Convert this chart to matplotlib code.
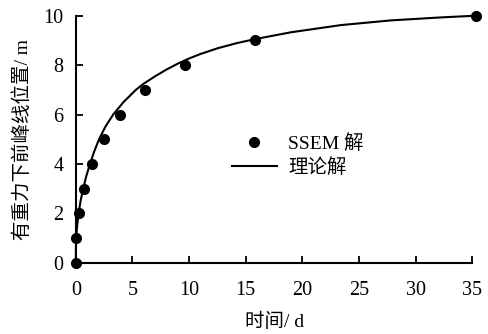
import matplotlib
matplotlib.use("Agg")
import matplotlib.pyplot as plt

plt.rcParams['font.family'] = ['Liberation Serif', 'Noto Sans CJK SC']
plt.rcParams['axes.unicode_minus'] = False

# SSEM results: time (d) vs front position (m)
ssem_t = [0.0, 0.04, 0.31, 0.75, 1.43, 2.45, 3.93, 6.13, 9.66, 15.84, 35.3]
ssem_y = [0, 1, 2, 3, 4, 5, 6, 7, 8, 9, 10]

# theoretical curve, read along its length
theory_t = [0.0, 0.01, 0.03, 0.12, 0.25, 0.42, 0.65, 0.92, 1.25, 1.62, 2.05,
            2.6, 3.3, 4.2, 5.3, 6.0, 7.0, 8.0, 9.0, 10.0, 11.0, 12.5, 14.2,
            15.9, 19.0, 23.4, 27.8, 32.2, 35.3]
theory_y = [0.0, 0.5, 1.0, 1.5, 2.0, 2.5, 3.0, 3.5, 4.0, 4.5, 5.0,
            5.5, 6.0, 6.5, 7.0, 7.25, 7.55, 7.82, 8.06, 8.27, 8.45, 8.68, 8.89,
            9.06, 9.33, 9.62, 9.81, 9.93, 10.0]

xticks = [0, 5, 10, 15, 20, 25, 30, 35]
yticks = [0, 2, 4, 6, 8, 10]

fig = plt.figure(figsize=(4.89, 3.34), dpi=100)
ax = fig.add_axes([0.155, 0.213, 0.811, 0.74])

ax.plot(theory_t, theory_y, color='black', lw=1.5, label='理论解', clip_on=False)
ax.plot(ssem_t, ssem_y, 'o', color='black', ms=7, label='SSEM 解', clip_on=False)

ax.set_xlim(0, 35)
ax.set_ylim(0, 10)
ax.set_xticks(xticks)
ax.set_yticks(yticks)
for s in ['top', 'right']:
    ax.spines[s].set_visible(False)
for s in ['left', 'bottom']:
    ax.spines[s].set_linewidth(1.5)
ax.tick_params(direction='in', length=5, width=1.3, labelsize=14.5)
ax.tick_params(axis='x', pad=13)
ax.tick_params(axis='y', pad=9)

ax.set_xlabel('时间/ d', fontsize=14, labelpad=9)
ax.set_ylabel('有重力下前峰线位置/ m', fontsize=14, labelpad=8)

handles, labels = ax.get_legend_handles_labels()
ax.legend(handles[::-1], labels[::-1], frameon=False, fontsize=14,
          loc='center left', bbox_to_anchor=(0.35, 0.435),
          handlelength=2.3, handletextpad=0.6, labelspacing=0.25)

fig.savefig('out.png', dpi=100)
